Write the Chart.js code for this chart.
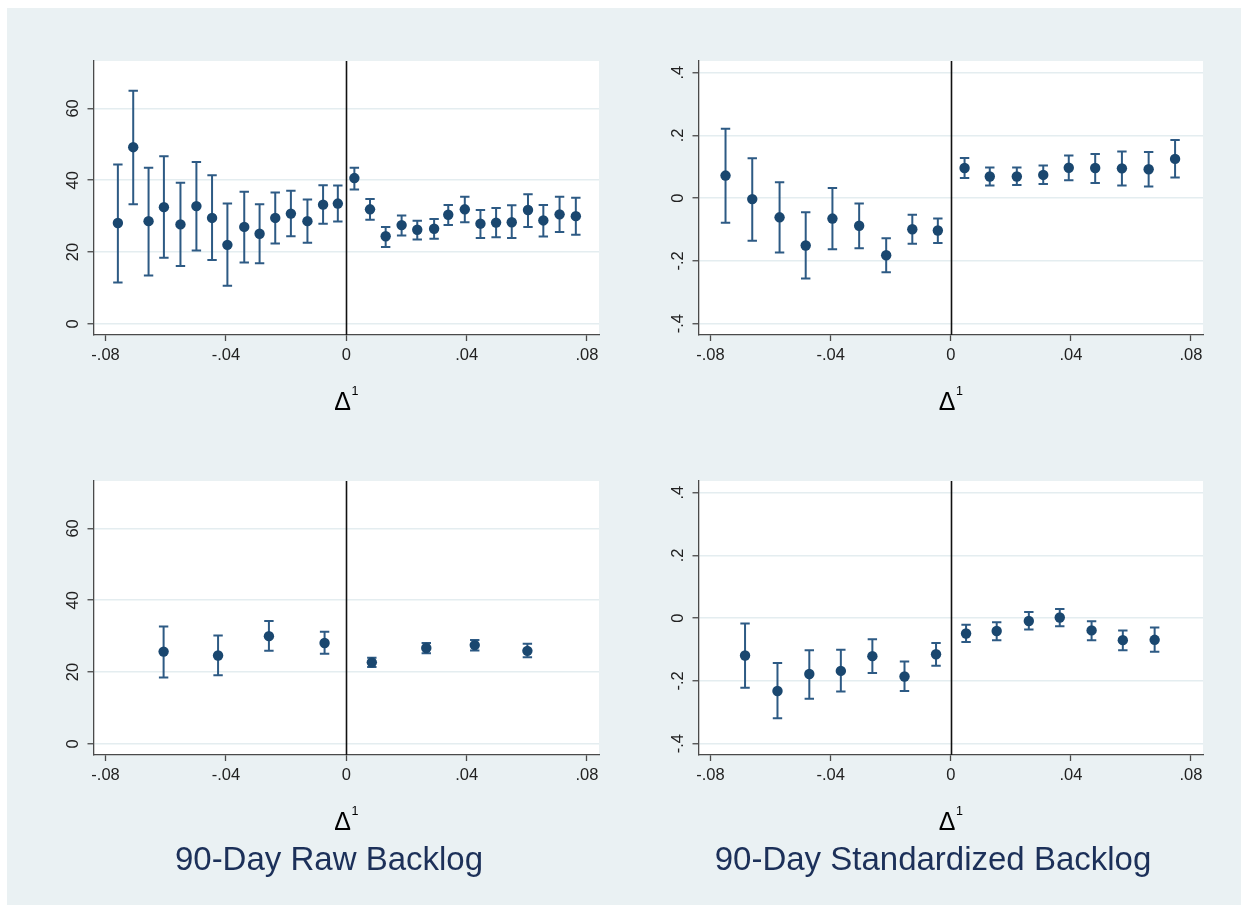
<!DOCTYPE html>
<html>
<head>
<meta charset="utf-8">
<script src="https://cdn.jsdelivr.net/npm/chart.js@4/dist/chart.umd.min.js"></script>
<style>
  body { margin: 0; background: #ffffff; width: 1248px; height: 911px; position: relative; overflow: hidden; }
  #bg { position: absolute; left: 7px; top: 8px; width: 1234px; height: 897px; background: #eaf1f3; }
  canvas { position: absolute; }
  .title {
    position: absolute; width: 600px; text-align: center;
    font-family: 'Liberation Sans', Arial, sans-serif; font-size: 33px; line-height: 33px;
    color: #1c3059;
  }
</style>
</head>
<body>
<div id="bg"></div>
<canvas id="rawTop" width="600" height="390" style="left:20px; top:40px"></canvas>
<canvas id="stdTop" width="600" height="390" style="left:625px; top:40px"></canvas>
<canvas id="rawBot" width="600" height="390" style="left:20px; top:460px"></canvas>
<canvas id="stdBot" width="600" height="390" style="left:625px; top:460px"></canvas>
<div class="title" style="left:29px; top:842px">90-Day Raw Backlog</div>
<div class="title" style="left:633px; top:842px">90-Day Standardized Backlog</div>

<script>
// 坐标轴刻度
const xTickValues = [-0.08, -0.04, 0, 0.04, 0.08];
const xTickLabels = ['-.08', '-.04', '0', '.04', '.08'];
const rawTickValues = [0, 20, 40, 60];
const rawTickLabels = ['0', '20', '40', '60'];
const stdTickValues = [-0.4, -0.2, 0, 0.2, 0.4];
const stdTickLabels = ['-.4', '-.2', '0', '.2', '.4'];

// 上左: raw backlog, 细分箱
const rawTopX = [-0.0759, -0.0708, -0.0657, -0.0606, -0.0551, -0.0498, -0.0446, -0.0395, -0.0339, -0.0288,
  -0.0236, -0.0184, -0.0129, -0.0077, -0.0028, 0.0027, 0.0079, 0.0131, 0.0184, 0.0236,
  0.0292, 0.0339, 0.0394, 0.0446, 0.0498, 0.0550, 0.0604, 0.0655, 0.0709, 0.0763];
const rawTopMean = [28.1, 49.2, 28.6, 32.5, 27.7, 32.8, 29.5, 22.0, 27.0, 25.1,
  29.5, 30.7, 28.6, 33.2, 33.5, 40.6, 31.9, 24.4, 27.5, 26.2,
  26.5, 30.4, 31.9, 27.9, 28.2, 28.3, 31.7, 28.8, 30.5, 30.0];
const rawTopLo = [11.5, 33.3, 13.5, 18.4, 16.1, 20.4, 17.8, 10.6, 17.1, 16.9,
  22.4, 24.4, 22.6, 27.9, 28.5, 37.4, 29.0, 21.4, 24.6, 23.5,
  23.7, 27.5, 28.3, 23.9, 24.1, 23.9, 27.0, 24.3, 25.6, 24.8];
const rawTopHi = [44.4, 64.9, 43.5, 46.7, 39.3, 45.1, 41.4, 33.5, 36.8, 33.3,
  36.6, 37.1, 34.6, 38.6, 38.5, 43.5, 34.8, 27.0, 30.2, 28.7,
  29.2, 33.1, 35.4, 31.7, 32.3, 33.0, 36.1, 33.1, 35.4, 35.1];

// 上右: standardized backlog
const stdTopX = [-0.0750, -0.0661, -0.0570, -0.0483, -0.0394, -0.0305, -0.0215, -0.0128, -0.0043,
  0.0046, 0.0130, 0.0220, 0.0308, 0.0393, 0.0481, 0.0570, 0.0659, 0.0747];
const stdTopMean = [0.072, -0.003, -0.061, -0.151, -0.065, -0.088, -0.182, -0.099, -0.103,
  0.096, 0.069, 0.069, 0.074, 0.097, 0.096, 0.095, 0.092, 0.125];
const stdTopLo = [-0.078, -0.136, -0.173, -0.256, -0.163, -0.160, -0.236, -0.145, -0.143,
  0.064, 0.040, 0.042, 0.045, 0.057, 0.048, 0.040, 0.037, 0.066];
const stdTopHi = [0.221, 0.127, 0.051, -0.045, 0.032, -0.017, -0.128, -0.053, -0.065,
  0.128, 0.098, 0.098, 0.104, 0.136, 0.141, 0.149, 0.147, 0.185];

// 下左: raw backlog, 粗分箱
const rawBotX = [-0.0607, -0.0426, -0.0257, -0.0072, 0.0085, 0.0266, 0.0427, 0.0602];
const rawBotMean = [25.7, 24.6, 30.0, 28.1, 22.7, 26.7, 27.5, 25.9];
const rawBotLo = [18.5, 19.1, 25.9, 25.1, 21.4, 25.2, 26.0, 24.1];
const rawBotHi = [32.7, 30.2, 34.2, 31.2, 24.0, 28.1, 28.9, 27.9];

// 下右: standardized backlog
const stdBotX = [-0.0685, -0.0577, -0.0471, -0.0366, -0.0261, -0.0154, -0.0049,
  0.0051, 0.0153, 0.0260, 0.0363, 0.0469, 0.0573, 0.0679];
const stdBotMean = [-0.119, -0.232, -0.178, -0.168, -0.121, -0.186, -0.115,
  -0.049, -0.041, -0.009, 0.002, -0.039, -0.070, -0.069];
const stdBotLo = [-0.222, -0.319, -0.257, -0.234, -0.175, -0.232, -0.152,
  -0.076, -0.070, -0.036, -0.026, -0.070, -0.102, -0.107];
const stdBotHi = [-0.017, -0.143, -0.102, -0.101, -0.067, -0.138, -0.079,
  -0.021, -0.013, 0.020, 0.029, -0.010, -0.039, -0.030];

const FONT = "'Liberation Sans', Arial, sans-serif";
const NAVY = '#1a476f';
const BAR = '#2d5a84';
const AXIS = '#4a4a4a';
const GRID = '#e4edf0';

/**
 * 面板绘制: 白色绘图区, x=0 竖线, 误差线, 旋转的 y 轴标签, Δ¹ 标题
 */
const panelPlugin = {
  id: 'panel',
  beforeDraw(chart) {
    const { ctx, chartArea: a } = chart;
    ctx.save();
    ctx.fillStyle = '#ffffff';
    ctx.fillRect(a.left, a.top, a.right - a.left, a.bottom - a.top);
    ctx.restore();
  },
  beforeDatasetsDraw(chart) {
    const { ctx, chartArea: a, scales: { x, y } } = chart;
    const ds = chart.data.datasets[0];
    ctx.save();
    // x = 0 竖线
    const x0 = Math.round(x.getPixelForValue(0)) + 0.5;
    ctx.strokeStyle = '#111111';
    ctx.lineWidth = 1.6;
    ctx.beginPath();
    ctx.moveTo(x0, a.top);
    ctx.lineTo(x0, a.bottom);
    ctx.stroke();
    // 误差线 (带帽)
    ctx.strokeStyle = BAR;
    ctx.lineWidth = 2;
    ds.data.forEach((p, i) => {
      const px = x.getPixelForValue(p.x);
      const pLo = y.getPixelForValue(ds.lo[i]);
      const pHi = y.getPixelForValue(ds.hi[i]);
      ctx.beginPath();
      ctx.moveTo(px, pLo);
      ctx.lineTo(px, pHi);
      ctx.moveTo(px - 4.7, pLo);
      ctx.lineTo(px + 4.7, pLo);
      ctx.moveTo(px - 4.7, pHi);
      ctx.lineTo(px + 4.7, pHi);
      ctx.stroke();
    });
    ctx.restore();
  },
  afterDraw(chart) {
    const { ctx, chartArea: a, scales: { y } } = chart;
    const labels = chart.options.yLabels;
    ctx.save();
    ctx.fillStyle = '#222222';
    ctx.font = `16.5px ${FONT}`;
    ctx.textAlign = 'center';
    ctx.textBaseline = 'middle';
    y.ticks.forEach((t, i) => {
      ctx.save();
      ctx.translate(a.left - 20, y.getPixelForValue(t.value));
      ctx.rotate(-Math.PI / 2);
      ctx.fillText(labels[i], 0, 0);
      ctx.restore();
    });
    // Δ¹
    const cx = (a.left + a.right) / 2;
    ctx.fillStyle = '#000000';
    ctx.textAlign = 'left';
    ctx.textBaseline = 'alphabetic';
    ctx.font = `25px ${FONT}`;
    const dx = cx - 12;
    ctx.fillText('Δ', dx, a.bottom + 75);
    const w = ctx.measureText('Δ').width;
    ctx.font = `12.5px ${FONT}`;
    ctx.fillText('1', dx + w + 0.5, a.bottom + 60);
    ctx.restore();
  }
};

function makePanel(canvasId, xs, mean, lo, hi, yMin, yMax, yTicks, yLabels, padRight) {
  const canvas = document.getElementById(canvasId);
  return new Chart(canvas, {
    type: 'scatter',
    data: {
      datasets: [{
        data: xs.map((v, i) => ({ x: v, y: mean[i] })),
        lo: lo,
        hi: hi,
        backgroundColor: NAVY,
        borderWidth: 0,
        pointRadius: 5.2,
        pointHoverRadius: 5.2
      }]
    },
    options: {
      responsive: false,
      animation: false,
      devicePixelRatio: 1,
      yLabels: yLabels,
      layout: { padding: { top: 21, right: padRight, left: 0, bottom: 0 } },
      plugins: { legend: { display: false }, tooltip: { enabled: false } },
      scales: {
        x: {
          type: 'linear',
          min: -0.084,
          max: 0.084,
          afterBuildTicks: (s) => { s.ticks = xTickValues.map(v => ({ value: v })); },
          afterFit: (s) => { s.height = 95; },
          ticks: {
            padding: 5,
            color: '#222222',
            font: { family: FONT, size: 16.5 },
            maxRotation: 0,
            autoSkip: false,
            callback: (v) => xTickLabels[xTickValues.indexOf(v)]
          },
          grid: { display: true, drawOnChartArea: false, drawTicks: true, tickLength: 6, tickColor: AXIS, tickWidth: 1.3 },
          border: { display: true, color: AXIS, width: 1.3 }
        },
        y: {
          type: 'linear',
          min: yMin,
          max: yMax,
          afterBuildTicks: (s) => { s.ticks = yTicks.map(v => ({ value: v })); },
          afterFit: (s) => { s.width = 73.5; },
          ticks: { display: false },
          grid: { display: true, color: GRID, lineWidth: 1.5, drawTicks: true, tickLength: 6, tickColor: AXIS, tickWidth: 1.3 },
          border: { display: true, color: AXIS, width: 1.3 }
        }
      }
    },
    plugins: [panelPlugin]
  });
}

makePanel('rawTop', rawTopX, rawTopMean, rawTopLo, rawTopHi, -3.1, 73.2, rawTickValues, rawTickLabels, 21);
makePanel('stdTop', stdTopX, stdTopMean, stdTopLo, stdTopHi, -0.436, 0.437, stdTickValues, stdTickLabels, 22);
makePanel('rawBot', rawBotX, rawBotMean, rawBotLo, rawBotHi, -3.1, 73.2, rawTickValues, rawTickLabels, 21);
makePanel('stdBot', stdBotX, stdBotMean, stdBotLo, stdBotHi, -0.436, 0.437, stdTickValues, stdTickLabels, 22);
</script>
</body>
</html>
